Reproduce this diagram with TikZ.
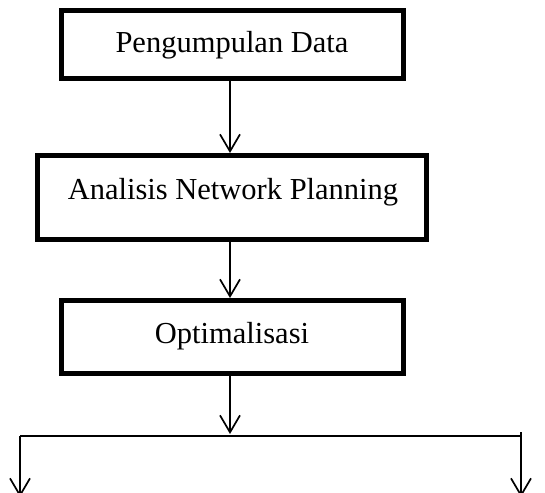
\documentclass[tikz,border=0pt]{standalone}
\usepackage{fontspec}
\setmainfont{Liberation Serif}
\usetikzlibrary{arrows.meta}
\begin{document}
\begin{tikzpicture}[x=1pt,y=-1pt,
  box/.style={draw,line width=4.6pt,minimum width=#1,inner sep=0pt},
  lbl/.style={anchor=base,inner sep=0pt,font=\fontsize{30.5}{34}\selectfont},
  flow/.style={line width=1.7pt,-{Straight Barb[length=17pt,width=20pt,line width=1.7pt]}},
  wire/.style={line width=1.7pt}]
\useasboundingbox (0,0) rectangle (545,492);
\clip (0,0) rectangle (545,492);
% process boxes
\node[box=342pt,minimum height=68pt] (pd) at (232.5,44.5) {};
\node[box=389pt,minimum height=84pt] (an) at (232,197.5) {};
\node[box=342pt,minimum height=73pt] (op) at (232.5,337) {};
% box captions
\node[lbl] (tpd) at (232,53) {Pengumpulan Data};
\node[lbl] (tan) at (233,199) {Analisis Network Planning};
\node[lbl] (top) at (232,343) {Optimalisasi};
% branch points
\coordinate (bl) at (20,436);
\coordinate (br) at (521,436);
\coordinate (el) at (20,497);
\coordinate (er) at (521,497);
\coordinate (rt) at (521,432);
% connectors
\draw[flow] (230,79) -- (230,153);
\draw[flow] (230,240) -- (230,298);
\draw[flow] (230,374) -- (230,434);
\draw[wire] (bl) -- (br);
\draw[flow] (bl) -- (el);
\draw[flow] (rt) -- (er);
\end{tikzpicture}
\end{document}
